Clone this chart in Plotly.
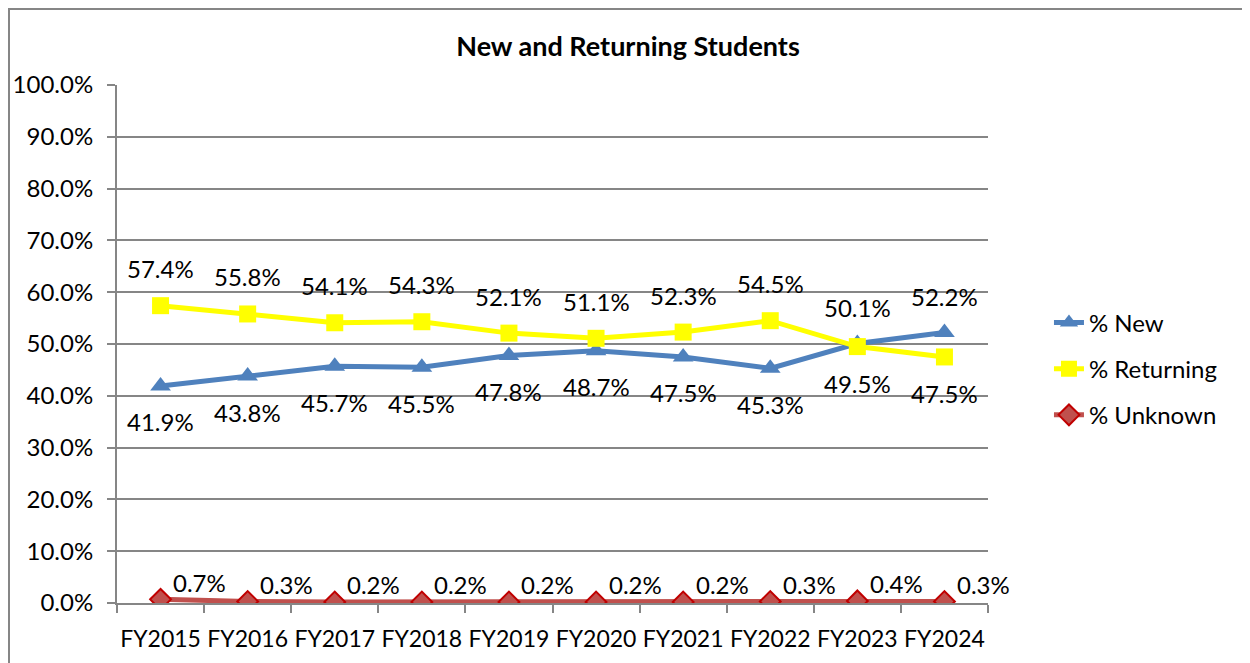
import plotly.graph_objects as go

years = ["FY2015", "FY2016", "FY2017", "FY2018", "FY2019", "FY2020", "FY2021", "FY2022", "FY2023", "FY2024"]
pct_new = [41.9, 43.8, 45.7, 45.5, 47.8, 48.7, 47.5, 45.3, 50.1, 52.2]
pct_returning = [57.4, 55.8, 54.1, 54.3, 52.1, 51.1, 52.3, 54.5, 49.5, 47.5]
pct_unknown = [0.7, 0.3, 0.2, 0.2, 0.2, 0.2, 0.2, 0.3, 0.4, 0.3]
y_ticks = [0, 10, 20, 30, 40, 50, 60, 70, 80, 90, 100]

FONT = "Lato"
FS = 24
fig = go.Figure()

fig.add_trace(go.Scatter(
    x=years, y=pct_new, name="% New", mode="lines+markers", legendgroup="a",
    line=dict(color="#4F81BD", width=5),
    marker=dict(symbol="triangle-up", size=18, color="#4F81BD"),
))
fig.add_trace(go.Scatter(
    x=years, y=pct_returning, name="% Returning", mode="lines+markers", legendgroup="b",
    line=dict(color="#FFFF00", width=5),
    marker=dict(symbol="square", size=17, color="#FFFF00"),
))
fig.add_trace(go.Scatter(
    x=years, y=pct_unknown, name="% Unknown", mode="lines+markers", legendgroup="c",
    line=dict(color="#C0504D", width=5),
    marker=dict(symbol="diamond", size=16, color="#C0504D", line=dict(color="#C00000", width=2)),
))

annotations = []
for xv, n, r in zip(years, pct_new, pct_returning):
    n_above = n > r
    annotations.append(dict(x=xv, y=n, xref="x", yref="y", text=f"{n:.1f}%", showarrow=False,
                            yshift=36 if n_above else -36, font=dict(family=FONT, size=FS, color="#000")))
    annotations.append(dict(x=xv, y=r, xref="x", yref="y", text=f"{r:.1f}%", showarrow=False,
                            yshift=-37 if n_above else 37, font=dict(family=FONT, size=FS, color="#000")))
for xv, u in zip(years, pct_unknown):
    annotations.append(dict(x=xv, y=u, xref="x", yref="y", text=f"{u:.1f}%", showarrow=False,
                            xshift=39, yshift=17, font=dict(family=FONT, size=FS, color="#000")))

fig.update_layout(
    width=1250, height=663,
    margin=dict(l=109, r=270, t=77, b=68, autoexpand=False),
    paper_bgcolor="white", plot_bgcolor="white",
    font=dict(family=FONT, size=FS, color="#000"),
    title=dict(text="<b>New and Returning Students</b>", x=620 / 1250, xanchor="center",
               y=1 - 39 / 663, yanchor="middle", font=dict(family=FONT, size=27, color="#000")),
    showlegend=True,
    legend=dict(x=1.07, xanchor="left", y=0.452, yanchor="middle", tracegroupgap=12,
                font=dict(family=FONT, size=FS, color="#000"), bgcolor="rgba(0,0,0,0)"),
    annotations=annotations,
    shapes=[dict(type="rect", xref="paper", yref="paper",
                 x0=(1 - 109) / 871, x1=(1247 - 109) / 871,
                 y0=(595 - 680) / 518, y1=(595 - 1) / 518,
                 line=dict(color="#868686", width=2), fillcolor="rgba(0,0,0,0)", layer="below")],
)
fig.update_xaxes(
    type="category", range=[-0.5, 9.5], tickson="boundaries", ticks="outside", ticklen=8,
    tickcolor="#868686", tickwidth=2, showline=True, linecolor="#868686", linewidth=2,
    showgrid=False, tickfont=dict(family=FONT, size=23), ticklabelstandoff=14,
    tickangle=0, automargin=False,
)
fig.update_yaxes(
    range=[0, 100], tickvals=y_ticks, ticktext=[f"{v:.1f}%" for v in y_ticks],
    ticks="outside", ticklen=8, tickcolor="#868686", tickwidth=2,
    showline=True, linecolor="#868686", linewidth=2, showgrid=True, gridcolor="#868686", gridwidth=1.5,
    zeroline=False, tickfont=dict(family=FONT, size=FS), ticklabelstandoff=9, automargin=False,
)
fig.write_html("out.html")
